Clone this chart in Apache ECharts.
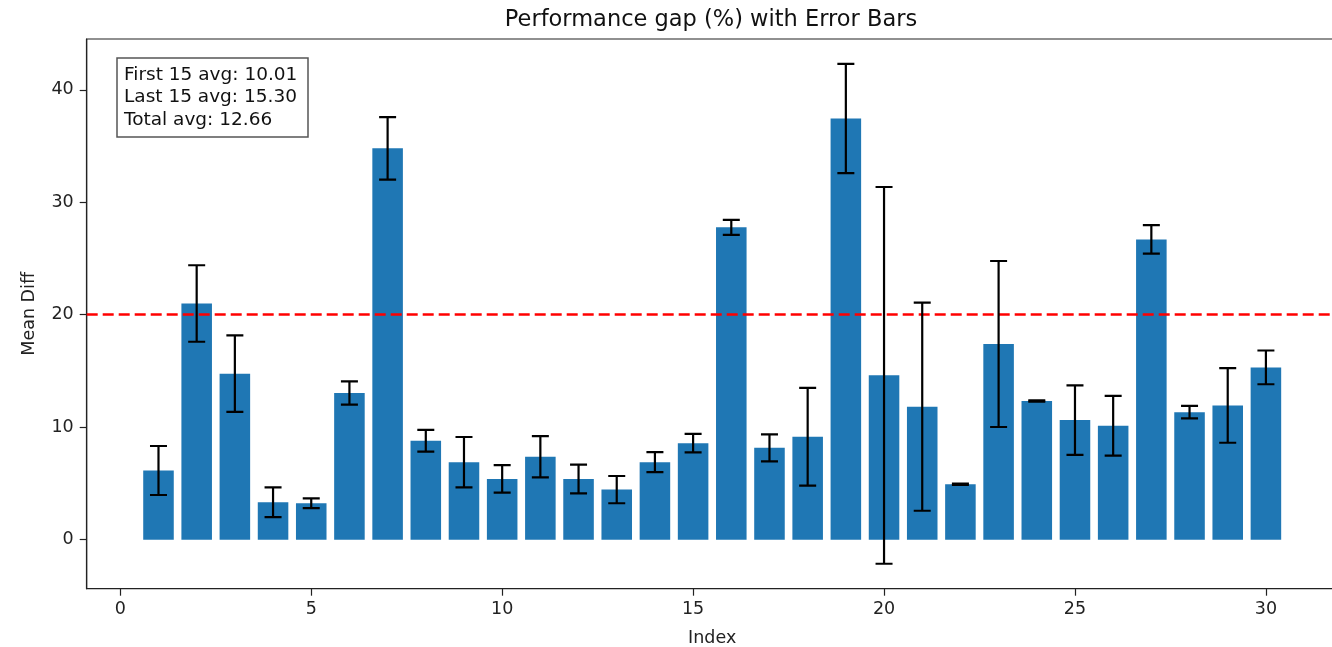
<!DOCTYPE html>
<html>
<head>
<meta charset="utf-8">
<script src="https://cdn.jsdelivr.net/npm/echarts@6/dist/echarts.min.js"></script>
<style>
html,body{margin:0;padding:0;background:#fff;}
#chart{width:1332px;height:647px;}
</style>
</head>
<body>
<div id="chart"></div>
<script>
const indices = [1,2,3,4,5,6,7,8,9,10,11,12,13,14,15,16,17,18,19,20,21,22,23,24,25,26,27,28,29,30];
const means = [6.15,21.0,14.76,3.33,3.24,13.04,34.8,8.79,6.89,5.40,7.37,5.40,4.45,6.89,8.58,
               27.77,8.17,9.15,37.45,14.61,11.82,4.93,17.4,12.33,10.63,10.13,26.7,11.34,11.94,15.32];
const errors = [2.18,3.4,3.4,1.32,0.43,1.03,2.78,0.97,2.24,1.22,1.83,1.28,1.21,0.89,0.82,
                0.67,1.2,4.35,4.85,16.75,9.25,0.05,7.38,0.05,3.09,2.66,1.27,0.55,3.32,1.5];
const threshold = 20;
const xTicks = [0,5,10,15,20,25,30];
const yTicks = [0,10,20,30,40];
const annotationLines = ['First 15 avg: 10.01','Last 15 avg: 15.30','Total avg: 12.66'];
const titleText = 'Performance gap (%) with Error Bars';

const FONT = 'DejaVu Sans';
const xMin = -0.88, xMax = 31.88, yMin = -4.36, yMax = 44.52;
const gridLeft = 86.7, gridTop = 39, gridWidth = 1251, gridHeight = 549.7;
const barPx = 0.8 * gridWidth / (xMax - xMin);

const chart = echarts.init(document.getElementById('chart'), null, {renderer:'canvas'});

const barData = indices.map((x,i)=>[x, means[i]]);
const errData = indices.map((x,i)=>[x, means[i]-errors[i], means[i]+errors[i]]);

chart.setOption({
  animation:false,
  backgroundColor:'#fff',
  grid:{left:gridLeft, top:gridTop, width:gridWidth, height:gridHeight, containLabel:false, outerBoundsMode:'none',
        show:true, borderColor:'#222', borderWidth:1.2, backgroundColor:'transparent'},
  xAxis:{
    type:'value', min:xMin, max:xMax,
    name:'Index', nameLocation:'middle', nameGap:41,
    nameTextStyle:{fontFamily:FONT, fontSize:17.5, color:'#222'},
    axisLine:{show:true, onZero:false, lineStyle:{color:'#222', width:1.2}},
    axisTick:{show:true, length:7, customValues:xTicks, lineStyle:{color:'#222', width:1.2}},
    axisLabel:{customValues:xTicks, fontFamily:FONT, fontSize:17.5, color:'#222', margin:12},
    splitLine:{show:false}
  },
  yAxis:{
    type:'value', min:yMin, max:yMax,
    name:'Mean Diff', nameLocation:'middle', nameGap:48, nameRotate:90,
    nameTextStyle:{fontFamily:FONT, fontSize:17.5, color:'#222'},
    axisLine:{show:true, onZero:false, lineStyle:{color:'#222', width:1.2}},
    axisTick:{show:true, length:7, customValues:yTicks, lineStyle:{color:'#222', width:1.2}},
    axisLabel:{customValues:yTicks, fontFamily:FONT, fontSize:17.5, color:'#222', margin:13},
    splitLine:{show:false}
  },
  series:[
    {
      type:'bar', data:barData, barWidth:barPx,
      itemStyle:{color:'#1f77b4'},
      markLine:{
        silent:true, symbol:['none','none'], label:{show:false},
        lineStyle:{color:'#ff0000', type:[11,5], width:2.6},
        data:[{yAxis:threshold}]
      },
      z:2
    },
    {
      type:'custom', data:errData, z:5, clip:true,
      renderItem:function(params, api){
        const x = api.value(0), lo = api.value(1), hi = api.value(2);
        const pLo = api.coord([x, lo]), pHi = api.coord([x, hi]);
        const cap = 8.5;
        const st = {stroke:'#000', lineWidth:2.2};
        return {type:'group', children:[
          {type:'line', shape:{x1:pLo[0], y1:pLo[1], x2:pHi[0], y2:pHi[1]}, style:st},
          {type:'line', shape:{x1:pLo[0]-cap, y1:pLo[1], x2:pLo[0]+cap, y2:pLo[1]}, style:st},
          {type:'line', shape:{x1:pHi[0]-cap, y1:pHi[1], x2:pHi[0]+cap, y2:pHi[1]}, style:st}
        ]};
      }
    }
  ],
  graphic:[
    {type:'text', x:711, y:20, style:{text:titleText, fontFamily:FONT, fontSize:22.5, fill:'#111', align:'center', verticalAlign:'middle'}},
    {type:'rect', x:117, y:58, shape:{width:191, height:79}, style:{fill:'#fff', stroke:'#555', lineWidth:1.5}, z:10},
    {type:'text', x:124, y:63.5, style:{text:annotationLines.join('\n'), fontFamily:FONT, fontSize:18.5, lineHeight:22.5, fill:'#111'}, z:11}
  ]
});
</script>
</body>
</html>
